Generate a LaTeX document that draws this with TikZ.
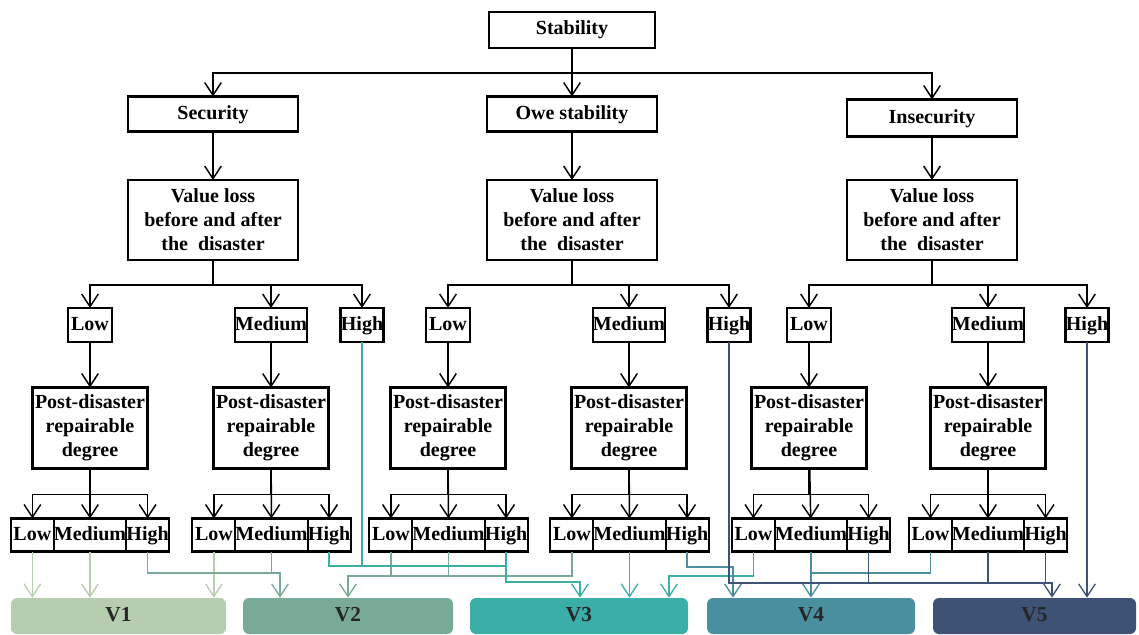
\documentclass[tikz,border=0pt]{standalone}
\usepackage{fontspec}
\setmainfont{Liberation Serif}
\usetikzlibrary{arrows.meta,positioning}
\definecolor{vone}{HTML}{B7CDAF}
\definecolor{vtwo}{HTML}{79AA95}
\definecolor{vthree}{HTML}{3AAEA7}
\definecolor{vfour}{HTML}{4A8F9D}
\definecolor{vfive}{HTML}{3E5276}
\begin{document}
\begin{tikzpicture}[x=0.75pt,y=-0.75pt,
    font=\fontsize{15pt}{18pt}\selectfont\bfseries,
    box/.style={draw,line width=1.6pt,inner sep=0pt,outer sep=0pt,align=center},
    one/.style={text height=10.5pt,text depth=3pt},
    top/.style={box,one,minimum width=127.5pt,minimum height=26.25pt},
    loss/.style={box,minimum width=127.5pt,minimum height=60pt},
    lvl/.style={box,one,minimum height=25.5pt,minimum width=#1},
    repair/.style={box,minimum width=86.25pt,minimum height=60.75pt},
    slo/.style={box,one,minimum height=24.75pt,minimum width=32.25pt},
    sme/.style={box,one,minimum height=24.75pt,minimum width=54pt},
    grade/.style={fill=#1,one,rounded corners=4.5pt,minimum height=27pt,inner sep=0pt,text=black!85,font=\fontsize{16pt}{18pt}\selectfont\bfseries},
    link/.style={line width=1.1pt,-{Straight Barb[length=9.5pt,width=12.5pt]}},
    vline/.style={draw=#1,line width=1pt,-{Straight Barb[length=9.5pt,width=12.5pt]}},
    vjoin/.style={draw=#1,line width=1pt}]
\useasboundingbox (0,0) rectangle (1139,635);

\node[box,one,minimum width=124.5pt,minimum height=27pt] (st) at (572,30) {Stability};
\node[top] (sec) at (213,114) {Security};
\node[top] (owe) at (572,114) {Owe stability};
\node[top,minimum height=27.75pt] (ins) at (932,118) {Insecurity};

\node[loss] (vl1) at (213,220) {Value loss\\before and after\\the\ \ disaster};
\node[loss] (vl2) at (572,220) {Value loss\\before and after\\the\ \ disaster};
\node[loss] (vl3) at (932,220) {Value loss\\before and after\\the\ \ disaster};

\node[lvl=33pt] (l1) at (90,325) {Low};
\node[lvl=52.5pt] (m1) at (271,325) {Medium};
\node[lvl=32.25pt] (h1) at (362,325) {High};
\node[lvl=33pt] (l2) at (448,325) {Low};
\node[lvl=52.5pt] (m2) at (629,325) {Medium};
\node[lvl=32.25pt] (h2) at (729,325) {High};
\node[lvl=33pt] (l3) at (809,325) {Low};
\node[lvl=52.5pt] (m3) at (988,325) {Medium};
\node[lvl=32.25pt] (h3) at (1087,325) {High};

\node[repair] (pl1) at (90,428) {Post-disaster\\repairable\\degree};
\node[repair] (pm1) at (271,428) {Post-disaster\\repairable\\degree};
\node[repair] (pl2) at (448,428) {Post-disaster\\repairable\\degree};
\node[repair] (pm2) at (629,428) {Post-disaster\\repairable\\degree};
\node[repair] (pl3) at (809,428) {Post-disaster\\repairable\\degree};
\node[repair] (pm3) at (988,428) {Post-disaster\\repairable\\degree};

\node[sme] (ame) at (90,535) {Medium};
\node[slo,left=0pt of ame] (alo) {Low};
\node[slo,right=0pt of ame] (ahi) {High};
\node[sme] (bme) at (271.5,535) {Medium};
\node[slo,left=0pt of bme] (blo) {Low};
\node[slo,right=0pt of bme] (bhi) {High};
\node[sme] (cme) at (448.5,535) {Medium};
\node[slo,left=0pt of cme] (clo) {Low};
\node[slo,right=0pt of cme] (chi) {High};
\node[sme] (dme) at (629.5,535) {Medium};
\node[slo,left=0pt of dme] (dlo) {Low};
\node[slo,right=0pt of dme] (dhi) {High};
\node[sme] (eme) at (811,535) {Medium};
\node[slo,left=0pt of eme] (elo) {Low};
\node[slo,right=0pt of eme] (ehi) {High};
\node[sme] (fme) at (988,535) {Medium};
\node[slo,left=0pt of fme] (flo) {Low};
\node[slo,right=0pt of fme] (fhi) {High};

\node[grade=vone,minimum width=161.25pt] (v1) at (118.5,616) {V1};
\node[grade=vtwo,minimum width=157.5pt] (v2) at (348,616) {V2};
\node[grade=vthree,minimum width=163.5pt] (v3) at (579,616) {V3};
\node[grade=vfour,minimum width=156pt] (v4) at (811,616) {V4};
\node[grade=vfive,minimum width=152.25pt] (v5) at (1034.5,616) {V5};

% tree
\draw[link] (st.south) -- ++(0,25) -| (sec.north);
\draw[link] (st.south) -- ++(0,25) -| (ins.north);
\draw[link] (st) -- (owe);
\draw[link] (sec) -- (vl1);
\draw[link] (owe) -- (vl2);
\draw[link] (ins) -- (vl3);

\draw[link] (vl1.south) -- ++(0,25) -| (l1.north);
\draw[link] (vl1.south) -- ++(0,25) -| (m1.north);
\draw[link] (vl1.south) -- ++(0,25) -| (h1.north);
\draw[link] (vl2.south) -- ++(0,25) -| (l2.north);
\draw[link] (vl2.south) -- ++(0,25) -| (m2.north);
\draw[link] (vl2.south) -- ++(0,25) -| (h2.north);
\draw[link] (vl3.south) -- ++(0,25) -| (l3.north);
\draw[link] (vl3.south) -- ++(0,25) -| (m3.north);
\draw[link] (vl3.south) -- ++(0,25) -| (h3.north);

\draw[link] (l1) -- (pl1);
\draw[link] (m1) -- (pm1);
\draw[link] (l2) -- (pl2);
\draw[link] (m2) -- (pm2);
\draw[link] (l3) -- (pl3);
\draw[link] (m3) -- (pm3);

\draw[link] (pl1.south) -- ++(0,26) -| (alo.north);
\draw[link] (pl1.south) -- ++(0,26) -| (ahi.north);
\draw[link] (pl1) -- (ame);
\draw[link] (pm1.south) -- ++(0,26) -| (blo.north);
\draw[link] (pm1.south) -- ++(0,26) -| (bhi.north);
\draw[link] (pm1) -- (bme);
\draw[link] (pl2.south) -- ++(0,26) -| (clo.north);
\draw[link] (pl2.south) -- ++(0,26) -| (chi.north);
\draw[link] (pl2) -- (cme);
\draw[link] (pm2.south) -- ++(0,26) -| (dlo.north);
\draw[link] (pm2.south) -- ++(0,26) -| (dhi.north);
\draw[link] (pm2) -- (dme);
\draw[link] (pl3.south) -- ++(0,26) -| (elo.north);
\draw[link] (pl3.south) -- ++(0,26) -| (ehi.north);
\draw[link] (pl3) -- (eme);
\draw[link] (pm3.south) -- ++(0,26) -| (flo.north);
\draw[link] (pm3.south) -- ++(0,26) -| (fhi.north);
\draw[link] (pm3) -- (fme);

% grades
\draw[vline=vone] (alo) -- (alo |- v1.north);
\draw[vline=vone] (ame) -- (ame |- v1.north);
\draw[vline=vone] (blo) -- (blo |- v1.north);

\draw[vline=vtwo] (ahi.south) |- (280,573) -- (280,0 |- v2.north);
\draw[vjoin=vtwo] (bme) -- (bme |- 0,573);
\draw[vline=vtwo] (dlo.south) |- (348,576) -- (348,0 |- v2.north);
\draw[vjoin=vtwo] (clo) -- (clo |- 0,576);
\draw[vjoin=vtwo] (cme) -- (cme |- 0,576);

\draw[vline=vthree] (chi.south) |- (580,582) -- (580,0 |- v3.north);
\draw[vjoin=vthree] (bhi.south) |- (chi.south |- 0,566);
\draw[vjoin=vthree] (h1) -- (h1 |- 0,566);
\draw[vline=vthree] (dme) -- (dme |- v3.north);
\draw[vline=vthree] (elo.south) |- (669,576) -- (669,0 |- v3.north);

\draw[vline=vfour] (dhi.south) |- (733,567) -- (733,0 |- v4.north);
\draw[vline=vfour] (eme) -- (eme |- v4.north);
\draw[vjoin=vfour] (flo.south) |- (eme.south |- 0,573);

\draw[vline=vfive] (h2.south) |- (1052,583) -- (1052,0 |- v5.north);
\draw[vjoin=vfive] (ehi) -- (ehi |- 0,583);
\draw[vjoin=vfive] (fme) -- (fme |- 0,583);
\draw[vjoin=vfive] (fhi) -- (fhi |- 0,583);
\draw[vline=vfive] (h3) -- (h3 |- v5.north);
\end{tikzpicture}
\end{document}
